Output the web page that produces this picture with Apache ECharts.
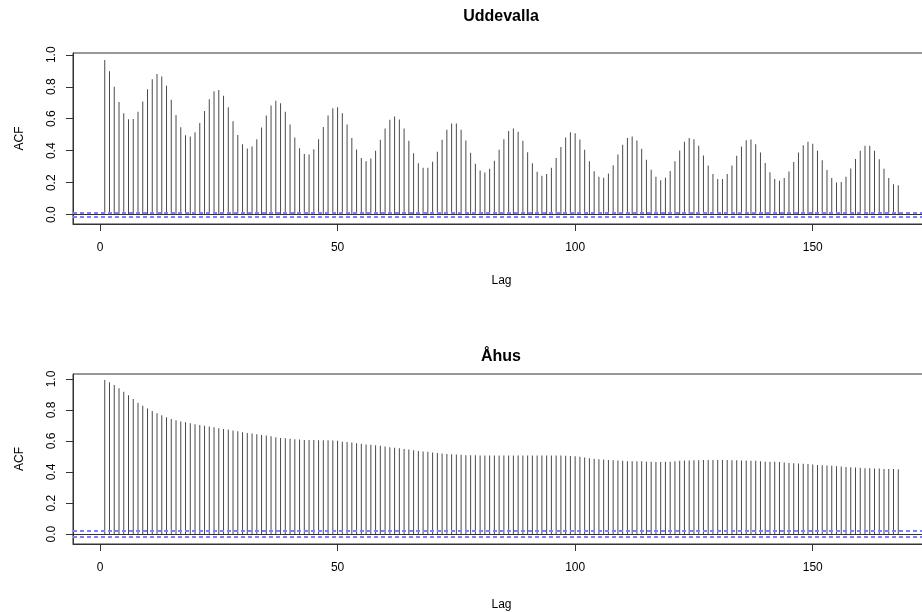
<!DOCTYPE html>
<html lang="en">
<head>
    <meta charset="UTF-8">
    <title>ACF</title>
    <style>
        html, body { margin: 0; padding: 0; background: #fff; }
    </style>
</head>
<body>
<div id="main" style="width: 922px;height: 612px;"></div>
<script src="https://cdn.jsdelivr.net/npm/echarts@6/dist/echarts.min.js"></script>
<script type="text/javascript">
    // lags 1..168
    const lags = [];
    for (let i = 1; i <= 168; i++) lags.push(i);

    const xTicks = [0, 50, 100, 150];
    const yTicks = [0, 0.2, 0.4, 0.6, 0.8, 1.0];

    const uddevallaAcf = [
        0.968, 0.897, 0.800, 0.705, 0.635, 0.597, 0.599, 0.643, 0.708, 0.785,
        0.847, 0.879, 0.864, 0.806, 0.718, 0.624, 0.547, 0.497, 0.489, 0.516,
        0.574, 0.649, 0.722, 0.772, 0.779, 0.743, 0.672, 0.585, 0.499, 0.441,
        0.414, 0.426, 0.472, 0.545, 0.620, 0.683, 0.712, 0.697, 0.643, 0.564,
        0.483, 0.416, 0.379, 0.376, 0.410, 0.472, 0.549, 0.620, 0.666, 0.672,
        0.635, 0.564, 0.480, 0.408, 0.354, 0.335, 0.352, 0.400, 0.468, 0.539,
        0.593, 0.614, 0.595, 0.539, 0.462, 0.385, 0.322, 0.293, 0.293, 0.331,
        0.393, 0.468, 0.531, 0.570, 0.570, 0.531, 0.464, 0.387, 0.318, 0.276,
        0.264, 0.287, 0.337, 0.406, 0.472, 0.524, 0.539, 0.518, 0.462, 0.391,
        0.322, 0.268, 0.243, 0.254, 0.293, 0.354, 0.424, 0.483, 0.516, 0.510,
        0.470, 0.406, 0.335, 0.272, 0.237, 0.231, 0.258, 0.310, 0.376, 0.437,
        0.479, 0.489, 0.464, 0.412, 0.343, 0.281, 0.237, 0.216, 0.231, 0.274,
        0.335, 0.401, 0.456, 0.480, 0.472, 0.431, 0.370, 0.308, 0.254, 0.224,
        0.224, 0.254, 0.308, 0.368, 0.426, 0.466, 0.470, 0.441, 0.389, 0.324,
        0.266, 0.224, 0.212, 0.229, 0.270, 0.329, 0.389, 0.435, 0.456, 0.443,
        0.400, 0.341, 0.279, 0.229, 0.201, 0.204, 0.237, 0.289, 0.349, 0.400,
        0.431, 0.431, 0.400, 0.347, 0.287, 0.229, 0.191, 0.185
    ];

    const ahusAcf = [
        0.994, 0.979, 0.961, 0.940, 0.918, 0.895, 0.871, 0.847, 0.828, 0.809,
        0.794, 0.779, 0.766, 0.753, 0.742, 0.734, 0.725, 0.721, 0.715, 0.708,
        0.704, 0.699, 0.693, 0.689, 0.682, 0.678, 0.674, 0.667, 0.663, 0.657,
        0.652, 0.648, 0.644, 0.639, 0.635, 0.631, 0.625, 0.620, 0.618, 0.614,
        0.611, 0.609, 0.607, 0.607, 0.606, 0.605, 0.605, 0.605, 0.603, 0.601,
        0.596, 0.594, 0.590, 0.586, 0.582, 0.578, 0.576, 0.573, 0.569, 0.564,
        0.560, 0.556, 0.554, 0.549, 0.545, 0.541, 0.536, 0.532, 0.530, 0.526,
        0.523, 0.519, 0.517, 0.515, 0.513, 0.511, 0.508, 0.508, 0.508, 0.507,
        0.507, 0.506, 0.506, 0.506, 0.506, 0.506, 0.506, 0.506, 0.506, 0.506,
        0.506, 0.506, 0.506, 0.506, 0.506, 0.506, 0.506, 0.505, 0.504, 0.502,
        0.498, 0.493, 0.489, 0.485, 0.483, 0.480, 0.478, 0.476, 0.474, 0.472,
        0.470, 0.470, 0.469, 0.469, 0.467, 0.466, 0.464, 0.464, 0.466, 0.467,
        0.469, 0.472, 0.474, 0.474, 0.476, 0.476, 0.478, 0.478, 0.478, 0.478,
        0.478, 0.478, 0.476, 0.476, 0.474, 0.474, 0.472, 0.472, 0.469, 0.467,
        0.467, 0.466, 0.464, 0.461, 0.459, 0.457, 0.455, 0.453, 0.451, 0.448,
        0.446, 0.444, 0.442, 0.440, 0.438, 0.435, 0.433, 0.431, 0.429, 0.427,
        0.425, 0.425, 0.422, 0.422, 0.420, 0.420, 0.420, 0.418
    ];

    const uddevallaCi = 0.0145;
    const ahusCi = 0.018;

    const font = 'Liberation Sans, Arial, Helvetica, sans-serif';

    function xAxisFor(gridIndex, nameGap) {
        return {
            type: 'value',
            gridIndex: gridIndex,
            min: -5.68,
            max: 174.68,
            name: 'Lag',
            nameLocation: 'middle',
            nameGap: nameGap,
            nameTextStyle: {color: '#000', fontSize: 12, fontFamily: font},
            axisLine: {show: true, onZero: false, lineStyle: {color: '#333', width: 1}},
            axisTick: {show: true, length: 7, customValues: xTicks, lineStyle: {color: '#333'}},
            axisLabel: {show: true, margin: 18, customValues: xTicks, color: '#000', fontSize: 12, fontFamily: font},
            splitLine: {show: false}
        };
    }

    function yAxisFor(gridIndex, min, max) {
        return {
            type: 'value',
            gridIndex: gridIndex,
            min: min,
            max: max,
            name: 'ACF',
            nameLocation: 'middle',
            nameGap: 47,
            nameTextStyle: {color: '#000', fontSize: 12, fontFamily: font},
            axisLine: {show: true, onZero: false, lineStyle: {color: '#333', width: 1}},
            axisTick: {show: true, length: 7, customValues: yTicks, lineStyle: {color: '#333'}},
            axisLabel: {
                show: true, rotate: 90, margin: 15, customValues: yTicks,
                color: '#000', fontSize: 12, fontFamily: font,
                formatter: function (v) { return v.toFixed(1); }
            },
            splitLine: {show: false}
        };
    }

    // the ACF spikes, with the blue confidence bounds
    function acfSeries(index, values, ci) {
        return {
            type: 'bar',
            xAxisIndex: index,
            yAxisIndex: index,
            barWidth: 1,
            itemStyle: {color: '#4a4a4a'},
            silent: true,
            data: lags.map(function (l, i) { return [l, values[i]]; }),
            markLine: {
                silent: true,
                symbol: ['none', 'none'],
                label: {show: false},
                lineStyle: {color: '#8080ff', width: 2, type: [4, 3], opacity: 1},
                data: [{yAxis: ci}, {yAxis: -ci}]
            }
        };
    }

    // zero line
    function zeroSeries(index) {
        return {
            type: 'line',
            xAxisIndex: index,
            yAxisIndex: index,
            data: [],
            silent: true,
            markLine: {
                silent: true,
                symbol: ['none', 'none'],
                label: {show: false},
                lineStyle: {color: '#333', width: 1, type: 'solid', opacity: 1},
                data: [{yAxis: 0}]
            }
        };
    }

    const myChart = echarts.init(document.getElementById('main'));
    const option = {
        animation: false,
        backgroundColor: '#fff',
        graphic: [
            {type: 'text', x: 501, y: 9, style: {text: 'Uddevalla', textAlign: 'center', fill: '#000', font: 'bold 16px ' + font}},
            {type: 'text', x: 501, y: 349, style: {text: 'Åhus', textAlign: 'center', fill: '#000', font: 'bold 16px ' + font}}
        ],
        grid: [
            {left: 73, top: 53, width: 857, height: 171, outerBoundsMode: 'none', show: true, borderColor: '#333', borderWidth: 1, backgroundColor: 'transparent'},
            {left: 73, top: 374, width: 857, height: 170, outerBoundsMode: 'none', show: true, borderColor: '#333', borderWidth: 1, backgroundColor: 'transparent'}
        ],
        xAxis: [xAxisFor(0, 51), xAxisFor(1, 55)],
        yAxis: [yAxisFor(0, -0.058, 1.011), yAxisFor(1, -0.064, 1.032)],
        series: [
            zeroSeries(0),
            zeroSeries(1),
            acfSeries(0, uddevallaAcf, uddevallaCi),
            acfSeries(1, ahusAcf, ahusCi)
        ]
    };
    myChart.setOption(option);
</script>
</body>
</html>
